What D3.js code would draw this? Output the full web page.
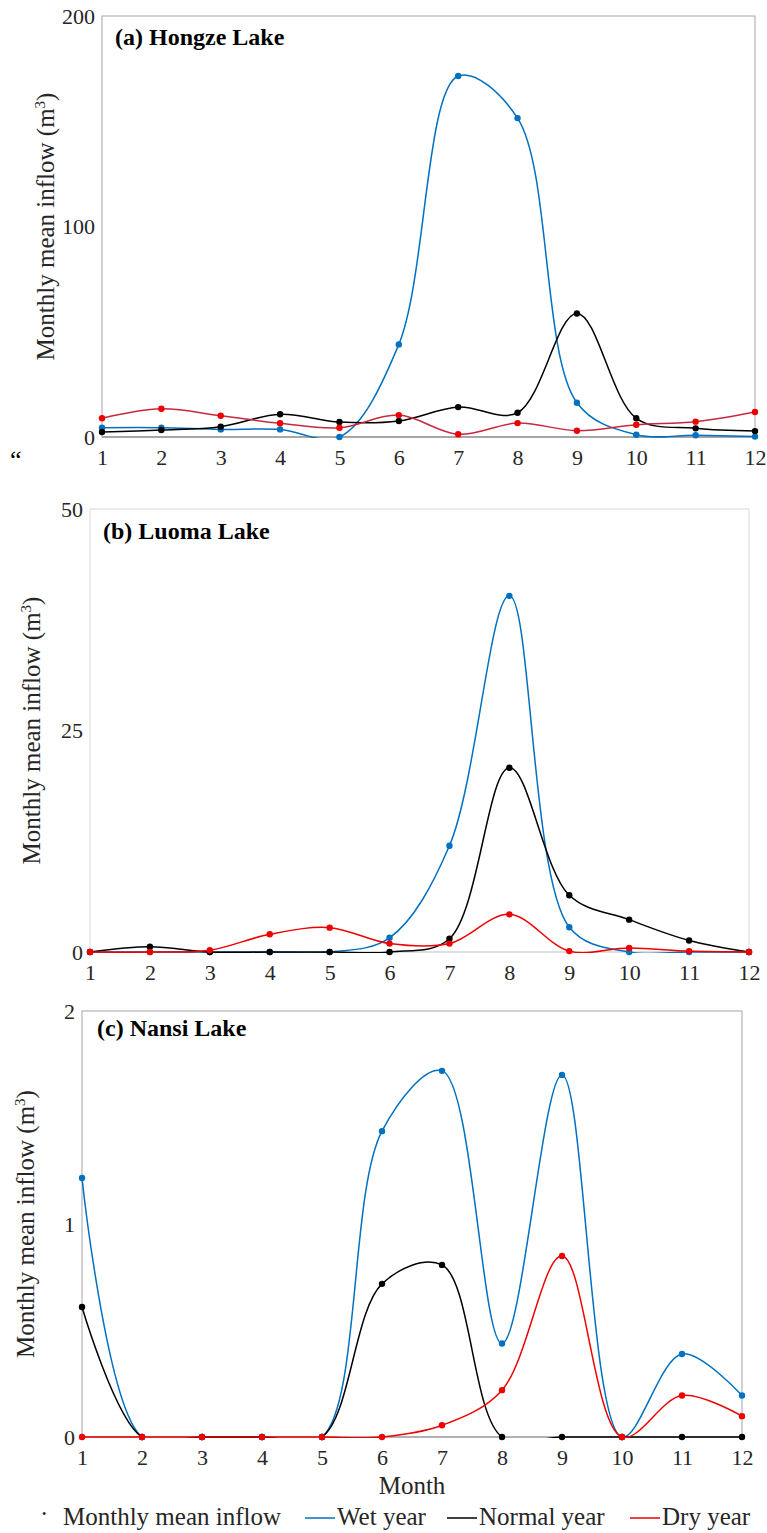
<!DOCTYPE html>
<html>
<head>
<meta charset="utf-8">
<script src="https://cdn.jsdelivr.net/npm/d3@7"></script>
<style>
  body { margin: 0; background: #fff; }
  svg, svg text { font-family: "Liberation Serif", "Times New Roman", serif; }
</style>
</head>
<body>
<div id="chart"></div>
<script>
// month numbers on the x axis
const months = [1, 2, 3, 4, 5, 6, 7, 8, 9, 10, 11, 12];

// (a) Hongze Lake
const hongzeWet    = [4.4, 4.4, 3.6, 3.6, 0, 44, 171.5, 151.5, 16.3, 1.1, 0.8, 0.2];
const hongzeNormal = [2.4, 3.3, 4.9, 10.8, 7.1, 7.6, 14.2, 11.5, 58.7, 8.9, 4.1, 2.8];
const hongzeDry    = [8.9, 13.4, 10.1, 6.5, 4.4, 10.4, 1.3, 6.6, 3.0, 5.8, 7.3, 11.9];
const hongzeTicks  = [0, 100, 200];

// (b) Luoma Lake
const luomaWet    = [0, 0, 0, 0, 0, 1.6, 12.0, 40.2, 2.8, 0, 0, 0];
const luomaNormal = [0, 0.6, 0, 0, 0, 0, 1.5, 20.8, 6.4, 3.65, 1.3, 0];
const luomaDry    = [0, 0, 0.2, 2.0, 2.75, 0.95, 0.95, 4.25, 0.1, 0.45, 0.1, 0];
const luomaTicks  = [0, 25, 50];

// (c) Nansi Lake
const nansiWet    = [1.216, 0, 0, 0, 0, 1.436, 1.719, 0.439, 1.70, 0, 0.39, 0.195];
const nansiNormal = [0.61, 0, 0, 0, 0, 0.719, 0.808, 0, 0, 0, 0, 0];
const nansiDry    = [0, 0, 0, 0, 0, 0, 0.055, 0.22, 0.85, 0, 0.195, 0.098];
const nansiTicks  = [0, 1, 2];

const seriesNames = ["Wet year", "Normal year", "Dry year"];

const width = 767;
const height = 1533;
const blue = "#0070c0";
const red = "#ee0000";
const serif = "Liberation Serif";

const panels = [
  { title: "(a) Hongze Lake", wet: hongzeWet, normal: hongzeNormal, dry: hongzeDry, ticks: hongzeTicks,
    left: 102, right: 755, top: 16, bottom: 437, titleX: 115, titleY: 45, labelX: 54,
    border: "#a6a6a6", axisW: 2, dryLine: "#c8283e" },
  { title: "(b) Luoma Lake", wet: luomaWet, normal: luomaNormal, dry: luomaDry, ticks: luomaTicks,
    left: 90, right: 749, top: 509, bottom: 952, titleX: 103, titleY: 539, labelX: 40,
    border: "#d9d9d9", axisW: 1.5, dryLine: red },
  { title: "(c) Nansi Lake", wet: nansiWet, normal: nansiNormal, dry: nansiDry, ticks: nansiTicks,
    left: 82, right: 742, top: 1011, bottom: 1437, titleX: 97, titleY: 1036, labelX: 34,
    border: "#a6a6a6", axisW: 1.5, dryLine: red }
];

const svg = d3.select("#chart")
  .append("svg")
  .attr("width", width)
  .attr("height", height)
  .attr("viewBox", [0, 0, width, height]);

svg.append("rect").attr("width", width).attr("height", height).attr("fill", "#fff");

panels.forEach((p, k) => {
  const x = d3.scaleLinear().domain([1, 12]).range([p.left, p.right]);
  const y = d3.scaleLinear().domain([0, d3.max(p.ticks)]).range([p.bottom, p.top]);
  const g = svg.append("g");

  // frame
  g.append("rect")
    .attr("x", p.left).attr("y", p.top)
    .attr("width", p.right - p.left).attr("height", p.bottom - p.top)
    .attr("fill", "none").attr("stroke", p.border).attr("stroke-width", 1);
  g.append("line")
    .attr("x1", p.left).attr("x2", p.right)
    .attr("y1", p.bottom).attr("y2", p.bottom)
    .attr("stroke", p.border).attr("stroke-width", p.axisW);

  // axes
  const yAxis = g.append("g")
    .attr("transform", `translate(${p.left},0)`)
    .call(d3.axisLeft(y).tickValues(p.ticks).tickFormat(d3.format("d")).tickSize(0).tickPadding(7));
  const xAxis = g.append("g")
    .attr("transform", `translate(0,${p.bottom})`)
    .call(d3.axisBottom(x).tickValues(months).tickFormat(d3.format("d")).tickSize(0).tickPadding(12));
  [yAxis, xAxis].forEach(a => {
    a.select(".domain").remove();
    a.attr("font-family", serif).attr("font-size", 22);
    a.selectAll("text").attr("fill", "#262626").style("font-family", serif);
  });

  // y label
  const yl = g.append("text")
    .attr("transform", `translate(${p.labelX},${(p.top + p.bottom) / 2}) rotate(-90)`)
    .attr("text-anchor", "middle")
    .attr("font-size", 25)
    .attr("fill", "#262626");
  yl.append("tspan").text("Monthly mean inflow (m");
  yl.append("tspan").attr("font-size", 15).attr("dy", -9).text("3");
  yl.append("tspan").attr("dy", 9).text(")");

  // title
  g.append("text")
    .attr("x", p.titleX).attr("y", p.titleY)
    .attr("font-size", 24).attr("font-weight", "bold")
    .text(p.title);

  // clip so smoothed curves don't dip below the axis
  const clipId = "clip" + k;
  svg.append("clipPath").attr("id", clipId)
    .append("rect")
    .attr("x", p.left - 2).attr("y", p.top)
    .attr("width", p.right - p.left + 4).attr("height", p.bottom - p.top + 1);

  const line = d3.line()
    .x((d, i) => x(months[i]))
    .y(d => y(d))
    .curve(d3.curveCatmullRom.alpha(0.5));

  const series = [
    { values: p.wet, line: blue, dot: blue },
    { values: p.normal, line: "#000", dot: "#000" },
    { values: p.dry, line: p.dryLine, dot: red }
  ];

  series.forEach(s => {
    g.append("path")
      .datum(s.values)
      .attr("clip-path", `url(#${clipId})`)
      .attr("fill", "none")
      .attr("stroke", s.line)
      .attr("stroke-width", 1.5)
      .attr("d", line);
    g.append("g")
      .selectAll("circle")
      .data(s.values)
      .join("circle")
      .attr("cx", (d, i) => x(months[i]))
      .attr("cy", d => y(d))
      .attr("r", 3.2)
      .attr("fill", s.dot);
  });
});

// stray quote mark beside panel (a)
svg.append("text").attr("x", 10).attr("y", 468).attr("font-size", 26).text("\u201C");

// x label
svg.append("text")
  .attr("x", 412).attr("y", 1494)
  .attr("text-anchor", "middle")
  .attr("font-size", 25)
  .attr("fill", "#262626")
  .text("Month");

// legend
const legend = svg.append("g").attr("font-size", 25).attr("fill", "#262626");
legend.append("text").attr("x", 40).attr("y", 1522).text("\u00B7");
legend.append("text").attr("x", 63).attr("y", 1525).text("Monthly mean inflow");
const legendItems = [
  { name: seriesNames[0], color: blue, x: 305 },
  { name: seriesNames[1], color: "#000", x: 447 },
  { name: seriesNames[2], color: red, x: 630 }
];
legendItems.forEach(d => {
  legend.append("line")
    .attr("x1", d.x).attr("x2", d.x + 30)
    .attr("y1", 1518).attr("y2", 1518)
    .attr("stroke", d.color).attr("stroke-width", 1.5);
  legend.append("text").attr("x", d.x + 32).attr("y", 1525).text(d.name);
});
</script>
</body>
</html>
